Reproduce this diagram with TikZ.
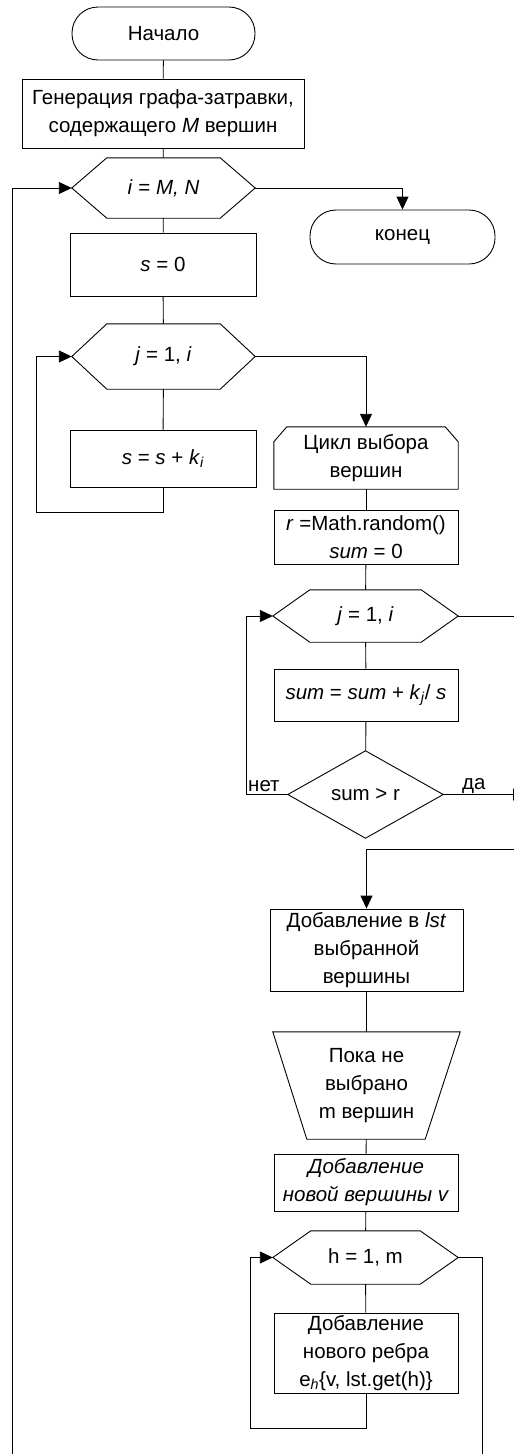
\documentclass[tikz,border=0pt]{standalone}
\usepackage{fontspec}
\setmainfont{Liberation Sans}
\usetikzlibrary{arrows.meta}
\newcommand\hexdraw[2]{\draw[ln] ([xshift=#2]#1.north west) -- ([xshift=-#2]#1.north east) -- (#1.east) -- ([xshift=-#2]#1.south east) -- ([xshift=#2]#1.south west) -- (#1.west) -- cycle;}
\begin{document}
\begin{tikzpicture}[x=1pt,y=-1pt,
  ln/.style={line width=0.9pt, draw=black},
  arr/.style={ln, -{Triangle[length=13pt,width=12pt]}},
  every node/.style={font=\fontsize{20.5}{28}\selectfont, align=center, inner sep=0pt, text=black},
  boxnode/.style={ln, draw, rectangle},
  termnode/.style={ln, draw, rectangle, rounded corners=26pt},
  shapenode/.style={rectangle, draw=none},
  lbl/.style={anchor=base west}
]
\useasboundingbox (0,0) rectangle (514,1454);
% nodes
\node[termnode, minimum width=183pt, minimum height=53pt] (start) at (163.5,33.5) {Начало};
\node[boxnode, minimum width=282pt, minimum height=69pt] (gen) at (163,113.5) {Генерация графа-затравки,\\содержащего \textit{M} вершин};
\node[shapenode, minimum width=183pt, minimum height=60pt] (h1) at (163.5,188) {\textit{i} = \textit{M, N}};
\node[termnode, minimum width=185pt, minimum height=54pt] (end) at (402.5,237) {конец};
\node[boxnode, minimum width=186pt, minimum height=63pt] (s0) at (163,264.5) {\textit{s} = 0};
\node[shapenode, minimum width=183pt, minimum height=65pt] (h2) at (163.5,356.5) {\textit{j} = 1, \textit{i}};
\node[boxnode, minimum width=186pt, minimum height=57pt] (ss) at (163,458.5) {\textit{s} = \textit{s} + \textit{k}\textsubscript{\textit{i}}};
\node[shapenode, minimum width=184pt, minimum height=62pt] (loop) at (366,458) {Цикл выбора\\вершин};
\node[boxnode, minimum width=184pt, minimum height=54pt] (rand) at (366,537) {\textit{r} =Math.random()\\\textit{sum} = 0};
\node[shapenode, minimum width=185pt, minimum height=52pt] (h3) at (365.5,616) {\textit{j} = 1, \textit{i}};
\node[boxnode, minimum width=184pt, minimum height=52pt] (sumb) at (366,695) {\textit{sum} = \textit{sum} + \textit{k}\textsubscript{\textit{j}}/ \textit{s}};
\node[shapenode, minimum width=155pt, minimum height=87pt] (dia) at (365.5,794.5) {sum > r};
\node[boxnode, minimum width=193pt, minimum height=82pt] (add) at (366.5,950) {Добавление в \textit{lst}\\выбранной\\вершины};
\node[shapenode, minimum width=187pt, minimum height=107pt] (trap) at (366.5,1085.5) {Пока не\\выбрано\\m вершин};
\node[boxnode, minimum width=184pt, minimum height=57pt] (newv) at (366,1182.5) {\textit{Добавление}\\\textit{новой вершины v}};
\node[shapenode, minimum width=185pt, minimum height=53pt] (h4) at (365.5,1257.5) {h = 1, m};
\node[boxnode, minimum width=184pt, minimum height=80pt] (edge) at (366,1353) {Добавление\\нового ребра\\e\textsubscript{\textit{h}}\{v, lst.get(h)\}};
% special shape outlines
\hexdraw{h1}{35pt}
\hexdraw{h2}{35pt}
\hexdraw{h3}{37pt}
\hexdraw{h4}{38pt}
\draw[ln] (loop.south west) -- ([yshift=-15pt]loop.north west) -- ([xshift=13pt]loop.north west) -- ([xshift=-13pt]loop.north east) -- ([yshift=-15pt]loop.north east) -- (loop.south east) -- cycle;
\draw[ln] (dia.north) -- (dia.east) -- (dia.south) -- (dia.west) -- cycle;
\draw[ln] (trap.north west) -- (trap.north east) -- ([xshift=-35pt]trap.south east) -- ([xshift=34pt]trap.south west) -- cycle;
% labels
\node[lbl] (no) at (248,791) {нет};
\node[lbl] (yes) at (462,789) {да};
% free ends
\coordinate (mainbot) at (12,1470);
\coordinate (h3out) at (530,616);
\coordinate (yesout) at (526,794.5);
\coordinate (yesin) at (530,849);
\coordinate (h4bot) at (482,1470);
% connectors
\draw[ln] (start) -- (gen);
\draw[ln] (gen) -- (h1);
\draw[arr] (mainbot) -- (12,188) -- (h1.west);
\draw[arr] (h1.east) -| (end.north);
\draw[ln] (h1) -- (s0);
\draw[ln] (s0) -- (h2);
\draw[ln] (h2) -- (ss);
\draw[arr] (ss.south) -- (163,512) -- (36,512) |- (h2.west);
\draw[arr] (h2.east) -| (loop.north);
\draw[ln] (loop) -- (rand);
\draw[ln] (rand) -- (h3);
\draw[ln] (h3.east) -- (h3out);
\draw[ln] (h3) -- (sumb);
\draw[ln] (sumb) -- (dia);
\draw[arr] (dia.west) -- (246,794.5) |- (h3.west);
\draw[arr] (dia.east) -- (yesout);
\draw[arr] (yesin) -| (add.north);
\draw[ln] (add) -- (trap);
\draw[ln] (trap) -- (newv);
\draw[ln] (newv) -- (h4);
\draw[ln] (h4) -- (edge);
\draw[arr] (edge.south) -- (366,1428) -- (250,1428) |- (h4.west);
\draw[ln] (h4.east) -- (482,1257.5) -- (h4bot);
\end{tikzpicture}
\end{document}
